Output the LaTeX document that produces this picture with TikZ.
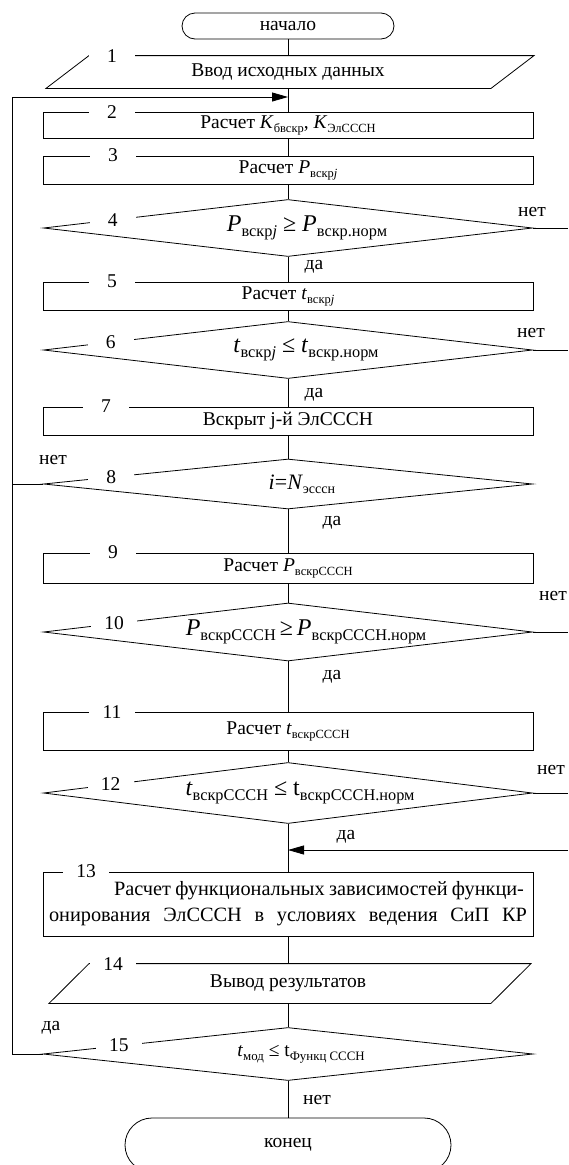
\documentclass[tikz,border=0pt]{standalone}
\usepackage{fontspec}
\setmainfont{Liberation Serif}
\usetikzlibrary{shapes.geometric,arrows.meta,calc}
\def\subr{0.64}
\makeatletter
\newcommand\lo[1]{\raisebox{-0.2em}{\fontsize{\fpeval{\subr*\f@size}}{1}\selectfont #1}}
\makeatother
\newcommand\shiftx[2]{\makebox[0pt]{\hspace*{#1}#2}}
\begin{document}
\begin{tikzpicture}[x=1pt,y=-1pt,
  line width=0.8pt,
  every node/.style={font=\fontsize{19.5}{26}\selectfont},
  proc/.style={draw, rectangle, minimum width=490pt, inner sep=0pt},
  dec/.style={draw, diamond, aspect=1, minimum width=489pt, inner sep=0pt},
  term/.style={draw, rectangle, inner sep=0pt},
  io/.style={rectangle, inner sep=0pt, minimum width=400pt},
  num/.style={fill=white, inner sep=0pt, minimum width=46pt, minimum height=13pt},
  lbl/.style={inner sep=0pt},
  arr/.style={-{Triangle[length=16pt,width=9pt]}},
  bigf/.style={font=\fontsize{24}{26}\selectfont\def\subr{0.68}},
  eqf/.style={font=\fontsize{22}{26}\selectfont},
  smallf/.style={font=\fontsize{19.5}{22}\selectfont\def\subr{0.66}},
  longf/.style={font=\fontsize{20.3}{26}\selectfont}
  ]
\useasboundingbox (0,0) rectangle (568,1165);
\coordinate (lx) at (12,0);
\coordinate (rx) at (568,0);
\coordinate (j2) at (288,97);
\coordinate (j3) at (288,850);

% shapes
\node[term, minimum width=212pt, minimum height=26pt, rounded corners=13pt] (start) at (288,26) {начало};

\node[io, minimum height=32pt] (p1) at (288,72) {Ввод исходных данных};
\draw ([xshift=-199pt]p1.north) -- ([xshift=246pt]p1.north) -- ([xshift=203pt]p1.south) -- ([xshift=-242pt]p1.south) -- cycle;

\node[proc, minimum height=26pt] (b2) at (288,125) {Расчет \textit{K}\lo{бвскр}, \textit{K}\lo{ЭлСССН}};
\node[proc, minimum height=28pt] (b3) at (288,170) {Расчет \textit{P}\lo{вскр\textit{j}}};
\node[dec, bigf, minimum height=57pt] (d4) at (288,228) {\shiftx{38pt}{\textit{P}\lo{вскр\textit{j}} ≥ \textit{P}\lo{вскр.норм}}};
\node[proc, minimum height=28pt] (b5) at (288,296) {Расчет \textit{t}\lo{вскр\textit{j}}};
\node[dec, bigf, minimum height=57pt] (d6) at (288,350) {\shiftx{36pt}{\textit{t}\lo{вскр\textit{j}} ≤ \textit{t}\lo{вскр.норм}}};
\node[proc, minimum height=28pt] (b7) at (288,421) {Вскрыт j-й ЭлСССН};
\node[dec, eqf, minimum height=50pt] (d8) at (288,484) {\shiftx{28pt}{\textit{i}=\textit{N}\lo{эсссн}}};
\node[proc, minimum height=30pt] (b9) at (288,568) {Расчет \textit{P}\lo{вскрСССН}};
\node[dec, bigf, minimum height=58pt] (d10) at (288,632) {\shiftx{36pt}{\textit{P}\lo{вскрСССН}\,≥\,\textit{P}\lo{вскрСССН.норм}}};
\node[proc, minimum height=38pt] (b11) at (288,731) {Расчет \textit{t}\lo{вскрСССН}};
\node[dec, bigf, minimum height=61pt] (d12) at (288,793) {\shiftx{24pt}{\textit{t}\lo{вскрСССН} ≤ t\lo{вскрСССН.норм}}};
\node[proc, longf, minimum height=64pt, align=left] (b13) at (288,904) {\hspace*{65pt}\makebox[410pt][s]{Расчет функциональных зависимостей функци-}\\\makebox[478pt][s]{онирования ЭлСССН в условиях ведения СиП КР}};

\node[io, minimum height=39pt] (p14) at (288,983.5) {Вывод результатов};
\draw ([xshift=-199pt]p14.north) -- ([xshift=243pt]p14.north) -- ([xshift=203pt]p14.south) -- ([xshift=-239pt]p14.south) -- cycle;

\node[dec, smallf, minimum width=490pt, minimum height=53pt] (d15) at (288,1054) {\shiftx{26pt}{\textit{t}\lo{мод} ≤ t\lo{Функц СССН}}};
\node[term, minimum width=326pt, minimum height=54pt, rounded corners=27pt] (end) at (288,1145) {конец};

% main flow
\draw (start) -- (p1);
\draw (p1) -- (b2);
\draw (b2) -- (b3);
\draw (b3) -- (d4);
\draw (d4) -- (b5);
\draw (b5) -- (d6);
\draw (d6) -- (b7);
\draw (b7) -- (d8);
\draw (d8) -- (b9);
\draw (b9) -- (d10);
\draw (d10) -- (b11);
\draw (b11) -- (d12);
\draw (d12) -- (b13);
\draw (b13) -- (p14);
\draw (p14) -- (d15);
\draw (d15) -- (end);

% loops
\draw[arr] (d15.west) -- (d15.west -| lx) |- (j2);
\draw (d8.west) -- (d8.west -| lx);
\draw (d4.east) -- (d4.east -| rx);
\draw (d6.east) -- (d6.east -| rx);
\draw (d10.east) -- (d10.east -| rx);
\draw (d12.east) -- (d12.east -| rx);
\draw[arr] (j3 -| rx) -- (j3);

% block numbers
\node[num] (n1) at ([xshift=-176pt]p1.north) {1};
\node[num] (n2) at ([xshift=-176pt]b2.north) {2};
\node[num] (n3) at ([xshift=-175pt]b3.north) {3};
\node[num] (n4) at ($(d4.west)!0.284!(d4.north)$) {4};
\node[num] (n5) at ([xshift=-176pt]b5.north) {5};
\node[num] (n6) at ($(d6.west)!0.276!(d6.north)$) {6};
\node[num] (n7) at ([xshift=-182pt]b7.north) {7};
\node[num] (n8) at ($(d8.west)!0.278!(d8.north)$) {8};
\node[num] (n9) at ([xshift=-175pt]b9.north) {9};
\node[num] (n10) at ($(d10.west)!0.29!(d10.north)$) {10};
\node[num] (n11) at ([xshift=-176pt]b11.north) {11};
\node[num] (n12) at ($(d12.west)!0.276!(d12.north)$) {12};
\node[num] (n13) at ([xshift=-202pt]b13.north) {13};
\node[num] (n14) at ([xshift=-175pt]p14.north) {14};
\node[num] (n15) at ($(d15.west)!0.311!(d15.north)$) {15};

% yes / no labels
\node[lbl] (no4) at (532,212) {нет};
\node[lbl] (da4) at (314,267) {да};
\node[lbl] (no6) at (531,333) {нет};
\node[lbl] (da6) at (314,395) {да};
\node[lbl] (no8) at (53,460) {нет};
\node[lbl] (da8) at (332,523) {да};
\node[lbl] (no10) at (553,596) {нет};
\node[lbl] (da10) at (332,677) {да};
\node[lbl] (no12) at (551,770) {нет};
\node[lbl] (da12) at (346,837) {да};
\node[lbl] (da15) at (51,1028) {да};
\node[lbl] (no15) at (317,1100) {нет};
\end{tikzpicture}
\end{document}
